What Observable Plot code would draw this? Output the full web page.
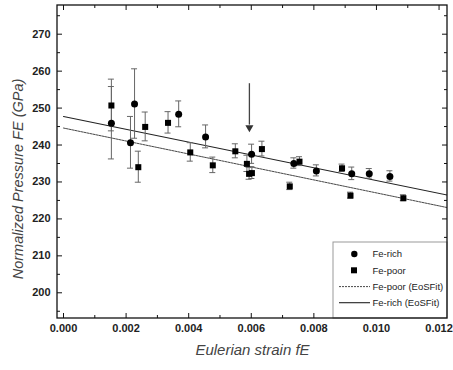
<!DOCTYPE html>
<html><head><meta charset="utf-8">
<script src="https://cdn.jsdelivr.net/npm/d3@7"></script>
<script src="https://cdn.jsdelivr.net/npm/@observablehq/plot@0.6"></script>
<style>body{margin:0;background:#fff}svg{display:block}</style>
</head><body><div id="chart"></div>
<script>
// Fe-rich (circles)
const richX = [0.00153, 0.00214, 0.00227, 0.00368, 0.00454, 0.00601, 0.00736, 0.00808, 0.00921, 0.00977, 0.01043];
const richY = [245.9, 240.6, 251.1, 248.3, 242.2, 237.5, 235.0, 233.0, 232.2, 232.2, 231.5];
const richErr = [9.8, 7.0, 9.4, 3.5, 3.1, 2.6, 1.4, 1.5, 1.7, 1.3, 1.4];
// Fe-poor (squares)
const poorX = [0.00153, 0.00239, 0.00261, 0.00334, 0.00405, 0.00477, 0.00549, 0.00586, 0.00593, 0.00602, 0.00634, 0.00723, 0.00754, 0.00890, 0.00917, 0.01086];
const poorY = [250.7, 234.0, 244.9, 246.0, 238.0, 234.5, 238.3, 234.9, 232.2, 232.4, 238.9, 228.8, 235.5, 233.7, 226.3, 225.6];
const poorErr = [7.0, 4.2, 3.9, 2.9, 2.5, 2.1, 1.9, 2.2, 1.6, 1.6, 2.0, 1.0, 1.2, 1.0, 0.8, 0.8];
// EoSFit lines (endpoints)
const fitX = [0, 0.0123];
const fitRichY = [247.7, 226.4];
const fitPoorY = [244.6, 223.0];
// arrow annotation
const arrowX = 0.00594, arrowTop = 256.6, arrowTip = 243.9;
// ticks
const xTicks = [0, 0.002, 0.004, 0.006, 0.008, 0.010, 0.012];
const xMinor = [0.001, 0.003, 0.005, 0.007, 0.009, 0.011];
const yTicks = [200, 210, 220, 230, 240, 250, 260, 270];
const yMinor = [195, 205, 215, 225, 235, 245, 255, 265, 275];
// legend
const legendLabels = ["Fe-rich", "Fe-poor", "Fe-poor (EoSFit)", "Fe-rich (EoSFit)"];

const W = 453, H = 370, mL = 57, mR = 6, mT = 5, mB = 52;
const fw = W - mL - mR, fh = H - mT - mB;

const rich = richX.map((x, i) => ({x, y: richY[i], e: richErr[i]}));
const poor = poorX.map((x, i) => ({x, y: poorY[i], e: poorErr[i]}));
const fitRich = fitX.map((x, i) => ({x, y: fitRichY[i]}));
const fitPoor = fitX.map((x, i) => ({x, y: fitPoorY[i]}));
const all = [...rich, ...poor];

const font = "Liberation Sans, Arial, sans-serif";

const chart = Plot.plot({
  width: W, height: H,
  marginLeft: mL, marginRight: mR, marginTop: mT, marginBottom: mB,
  style: {fontFamily: font, background: "#fff"},
  x: {type: "linear", domain: [-0.000192, 0.01227]},
  y: {type: "linear", domain: [193.04, 277.77]},
  marks: [
    Plot.axisX(xTicks, {tickSize: 0, tickPadding: 6, tickFormat: d3.format(".3f"), fontWeight: "bold", fontSize: 11, fill: "#222", label: null}),
    Plot.axisY(yTicks, {tickSize: 0, tickPadding: 7, fontWeight: "bold", fontSize: 11, fill: "#222", label: null}),
    // inward ticks
    Plot.tickX(xTicks, {x: d => d, insetTop: fh - 5, stroke: "#111"}),
    Plot.tickX(xMinor, {x: d => d, insetTop: fh - 3, stroke: "#111"}),
    Plot.tickX(xTicks, {x: d => d, insetBottom: fh - 5, stroke: "#111"}),
    Plot.tickX(xMinor, {x: d => d, insetBottom: fh - 3, stroke: "#111"}),
    Plot.tickY(yTicks, {y: d => d, insetRight: fw - 5, stroke: "#111"}),
    Plot.tickY(yMinor, {y: d => d, insetRight: fw - 3, stroke: "#111"}),
    Plot.tickY(yTicks, {y: d => d, insetLeft: fw - 5, stroke: "#111"}),
    Plot.tickY(yMinor, {y: d => d, insetLeft: fw - 3, stroke: "#111"}),
    // fit lines
    Plot.line(fitRich, {x: "x", y: "y", stroke: "#222", strokeWidth: 1.1, clip: true}),
    Plot.line(fitPoor, {x: "x", y: "y", stroke: "#333", strokeWidth: 0.9, strokeDasharray: "2,1", clip: true}),
    // error bars
    Plot.ruleX(all, {x: "x", y1: d => d.y - d.e, y2: d => d.y + d.e, stroke: "#666", strokeWidth: 1}),
    // arrow
    Plot.ruleX([arrowX], {x: d => d, y1: arrowTop, y2: arrowTip + 1.5, stroke: "#444", strokeWidth: 1.3}),
    Plot.dot([arrowX], {x: d => d, y: arrowTip, symbol: "triangle", rotate: 180, r: 3, fill: "#333", stroke: "none", dy: -3}),
    // points
    Plot.dot(poor, {x: "x", y: "y", symbol: "square", r: 3.4, fill: "#000"}),
    Plot.dot(rich, {x: "x", y: "y", symbol: "circle", r: 3.5, fill: "#000"}),
    // axis titles
    Plot.text(["Eulerian strain fE"], {frameAnchor: "bottom", dy: 36, fontSize: 15, fontStyle: "italic", fill: "#444", textAnchor: "middle"}),
    Plot.text(["Normalized Pressure FE (GPa)"], {frameAnchor: "left", dx: -39, dy: 17, rotate: -90, fontSize: 14.5, fontStyle: "italic", fill: "#444", textAnchor: "middle"})
  ]
});

const sx = chart.scale("x"), sy = chart.scale("y");
const svg = d3.select(chart);
// error-bar caps
const caps = svg.append("g").attr("stroke", "#666").attr("stroke-width", 1);
for (const d of all) {
  for (const v of [d.y - d.e, d.y + d.e]) {
    caps.append("line")
      .attr("x1", sx.apply(d.x) - 3).attr("x2", sx.apply(d.x) + 3)
      .attr("y1", sy.apply(v)).attr("y2", sy.apply(v));
  }
}
// re-raise points above caps
svg.selectAll("g[aria-label='dot']").raise();
// legend
const lx = 333, ly = 242;
const lg = svg.append("g").attr("font-family", font).attr("font-size", 9.5).attr("fill", "#222").attr("text-anchor", "start");
lg.append("rect").attr("x", lx).attr("y", ly).attr("width", W - mR - lx).attr("height", H - mB - ly)
  .attr("fill", "#fff").attr("stroke", "#999").attr("stroke-width", 1);
const rowY = [254, 270.3, 286.6, 302.7];
lg.append("circle").attr("cx", 354.3).attr("cy", rowY[0]).attr("r", 3.2).attr("fill", "#000");
lg.append("rect").attr("x", 351).attr("y", rowY[1] - 3).attr("width", 6).attr("height", 6).attr("fill", "#000");
lg.append("line").attr("x1", 339).attr("x2", 370).attr("y1", rowY[2]).attr("y2", rowY[2]).attr("stroke", "#333").attr("stroke-width", 0.9).attr("stroke-dasharray", "2,1");
lg.append("line").attr("x1", 339).attr("x2", 370).attr("y1", rowY[3]).attr("y2", rowY[3]).attr("stroke", "#222").attr("stroke-width", 1.1);
legendLabels.forEach((t, i) => {
  lg.append("text").attr("x", 372.5).attr("y", rowY[i]).attr("dy", "0.35em").attr("text-anchor", "start").text(t);
});
// frame on top
svg.append("rect").attr("x", mL).attr("y", mT).attr("width", fw).attr("height", fh)
  .attr("fill", "none").attr("stroke", "#111").attr("stroke-width", 1.3);

document.getElementById("chart").append(chart);
</script>
</body></html>
